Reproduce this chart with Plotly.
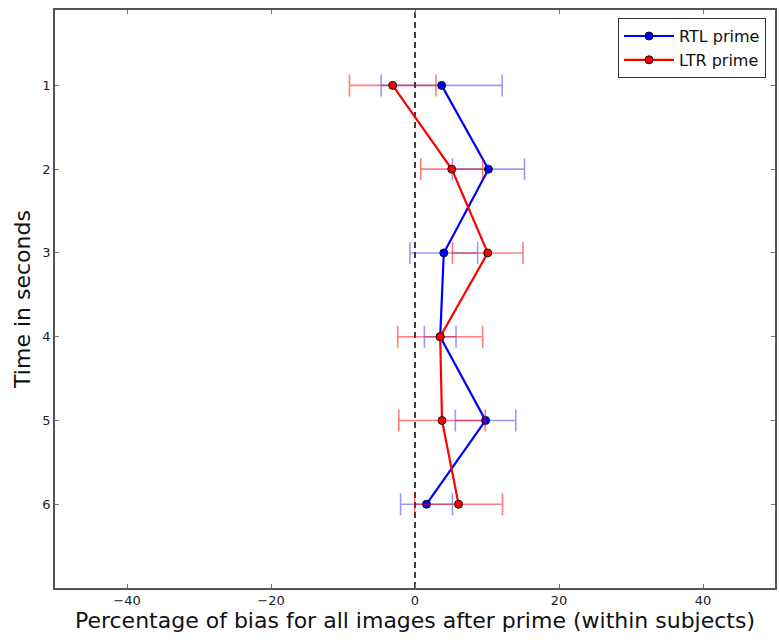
import plotly.graph_objects as go

# Time points (seconds) on the vertical axis
times = [1, 2, 3, 4, 5, 6]

# Percentage of bias after each prime, with symmetric error margins
rtl_bias = [3.7, 10.2, 4.0, 3.5, 9.8, 1.6]
rtl_err = [8.4, 5.0, 4.7, 2.2, 4.2, 3.6]

ltr_bias = [-3.1, 5.1, 10.1, 3.5, 3.75, 6.05]
ltr_err = [6.0, 4.3, 4.9, 5.9, 6.0, 6.1]

x_ticks = [-40, -20, 0, 20, 40]

FONT = "DejaVu Sans"

fig = go.Figure()

# Zero reference line
fig.add_shape(
    type="line", xref="x", yref="paper", x0=0, x1=0, y0=0, y1=1,
    line=dict(color="black", width=1.5, dash="6px,4px"), layer="below",
)

fig.add_trace(go.Scatter(
    x=rtl_bias, y=times, mode="lines+markers", name="RTL prime",
    line=dict(color="#0000ff", width=2.2),
    marker=dict(color="#0000ff", size=8, line=dict(color="#111", width=1)),
    error_x=dict(type="data", array=rtl_err, color="rgba(0,0,255,0.4)",
                 thickness=1.6, width=11),
))
fig.add_trace(go.Scatter(
    x=ltr_bias, y=times, mode="lines+markers", name="LTR prime",
    line=dict(color="#ff0000", width=2.2),
    marker=dict(color="#ff0000", size=8, line=dict(color="#111", width=1)),
    error_x=dict(type="data", array=ltr_err, color="rgba(255,0,0,0.5)",
                 thickness=1.6, width=11),
))

axis_common = dict(
    showgrid=False, zeroline=False, showline=True, linecolor="#555",
    linewidth=1.5, mirror="ticks", ticks="inside", ticklen=4,
    tickcolor="#777", tickwidth=1,
    tickfont=dict(family=FONT, size=13, color="#222"),
)

fig.update_layout(
    width=779, height=640,
    margin=dict(l=55, r=2, t=10, b=52),
    paper_bgcolor="white", plot_bgcolor="white",
    font=dict(family=FONT, color="#111"),
    xaxis=dict(
        range=[-50, 50], tickvals=x_ticks,
        title=dict(text="Percentage of bias for all images after prime (within subjects)",
                   font=dict(family=FONT, size=22), standoff=4),
        **axis_common,
    ),
    yaxis=dict(
        range=[7, 0.1], tickvals=times,
        title=dict(text="Time in seconds", font=dict(family=FONT, size=22), standoff=6),
        **axis_common,
    ),
    legend=dict(
        x=0.9875, y=0.986, xanchor="right", yanchor="top",
        bordercolor="#333", borderwidth=1, bgcolor="white",
        font=dict(family=FONT, size=16), itemwidth=50,
        tracegroupgap=2,
    ),
    showlegend=True,
)

fig.write_html("out.html")
